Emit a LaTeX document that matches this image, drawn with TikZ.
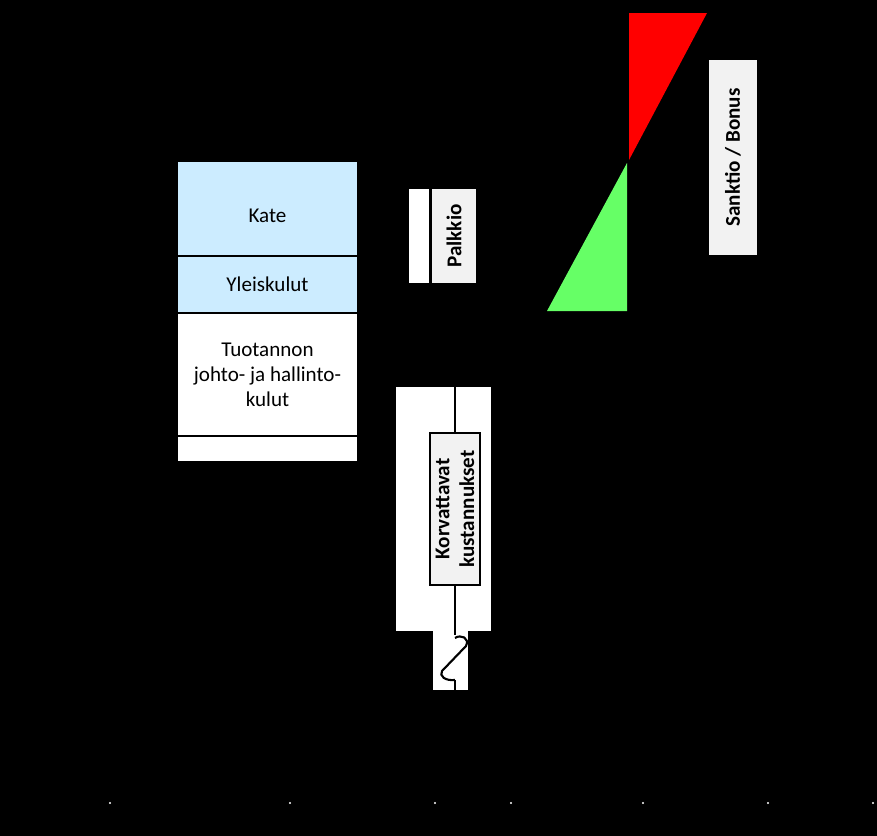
\documentclass[tikz,border=0pt]{standalone}
\usepackage{fontspec}
\setmainfont{Carlito}
\definecolor{kateblue}{HTML}{CCECFF}
\definecolor{boxgray}{HTML}{F2F2F2}
\definecolor{bonusgreen}{HTML}{66FF66}
\tikzset{
  cell/.style={draw=black, line width=0.6pt, minimum width=3.62cm, inner sep=0pt, align=center, font=\fontsize{12}{14.2}\selectfont},
  tag/.style={fill=boxgray, rotate=90, inner sep=0pt, align=center, font=\bfseries\fontsize{12}{14.2}\selectfont},
  blank/.style={fill=white, inner sep=0pt},
}
\begin{document}
\begin{tikzpicture}[x=0.02cm, y=-0.02cm]
        % background
        \fill[black] (0,0) rectangle (877,836);
        \useasboundingbox (0,0) rectangle (877,836);
        % cost stack
        \node[cell, fill=kateblue, minimum height=1.9cm, text height=0.55cm, text depth=0cm] (kate) at (267.5,208.5) {Kate};
        \node[cell, fill=kateblue, minimum height=1.14cm] (yleis) at (267.5,284.5) {Yleiskulut};
        \node[cell, fill=white, minimum height=2.46cm] (tuot) at (267.5,374.5) {Tuotannon\\johto- ja hallinto-\\kulut};
        \node[cell, fill=white, minimum height=0.52cm] (pohja) at (267.5,449) {};
        % palkkio
        \node[blank, minimum width=0.4cm, minimum height=1.88cm] (strip) at (419,236) {};
        \node[tag, minimum width=1.88cm, minimum height=0.88cm] (palkkio) at (454,236) {Palkkio};
        % korvattavat
        \node[blank, minimum width=1.9cm, minimum height=4.88cm] (korvbg) at (443.5,509) {};
        \node[blank, minimum width=0.7cm, minimum height=1.18cm] (katko) at (450.5,660.5) {};
        \node[tag, draw=black, line width=0.6pt, minimum width=3.04cm, minimum height=1cm] (korv) at (455,509) {Korvattavat\\kustannukset};
        \coordinate (ktop) at (455,387);
        \coordinate (kbot) at (455,690);
        \draw[line width=0.6pt] (ktop) -- (korv.east);
        \draw[line width=0.6pt] (korv.west) -- (455,635);
        \draw[line width=1.2pt] (455,638) .. controls (461,634) and (470,638) .. (466,646) -- (442,671) .. controls (439,676) and (445,681) .. (455,680);
        \draw[line width=0.6pt] (455,680) -- (kbot);
        % sanktio / bonus
        \fill[red] (629,13) -- (707,13) -- (629,160) -- cycle;
        \fill[bonusgreen] (627,163) -- (627,311) -- (547,311) -- cycle;
        \node[tag, minimum width=3.9cm, minimum height=0.96cm] (sanktio) at (733,157.5) {Sanktio / Bonus};
        % dots
        \foreach \x in {110,290,435,511,643,768,873}
          \fill[white] (\x,803) circle (0.6pt);
\end{tikzpicture}
\end{document}
